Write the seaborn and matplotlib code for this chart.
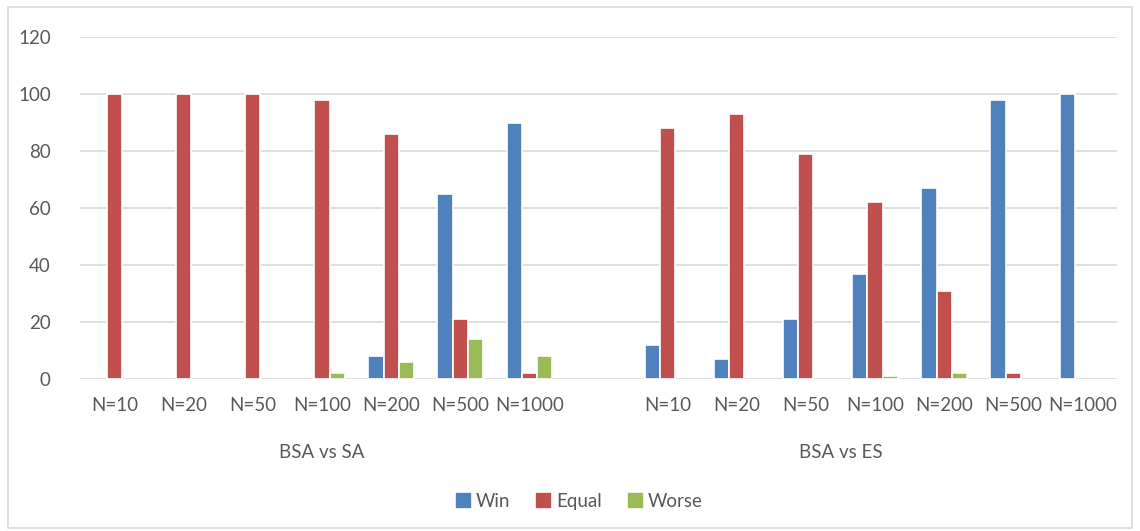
import matplotlib
matplotlib.use("Agg")
import matplotlib.pyplot as plt
import matplotlib.patches as mpatches
import seaborn as sns
import pandas as pd

# Sizes tested, per comparison
sizes = ["N=10", "N=20", "N=50", "N=100", "N=200", "N=500", "N=1000"]
comparisons = ["BSA vs SA", "BSA vs ES"]

# Percentage of runs: BSA vs SA
sa_win = [0, 0, 0, 0, 8, 65, 90]
sa_equal = [100, 100, 100, 98, 86, 21, 2]
sa_worse = [0, 0, 0, 2, 6, 14, 8]

# Percentage of runs: BSA vs ES
es_win = [12, 7, 21, 37, 67, 98, 100]
es_equal = [88, 93, 79, 62, 31, 2, 0]
es_worse = [0, 0, 0, 1, 2, 0, 0]

outcomes = ["Win", "Equal", "Worse"]
colors = ["#4F81BD", "#C0504D", "#9BBB59"]

rows = []
for comp, series in zip(comparisons, [(sa_win, sa_equal, sa_worse),
                                      (es_win, es_equal, es_worse)]):
    for outcome, vals in zip(outcomes, series):
        for s, v in zip(sizes, vals):
            rows.append({"slot": f"{comp}|{s}", "outcome": outcome, "value": v})
df = pd.DataFrame(rows)

# One empty slot separates the two comparisons
order = [f"{comparisons[0]}|{s}" for s in sizes] + ["gap"] + \
        [f"{comparisons[1]}|{s}" for s in sizes]

sns.set_theme(style="white")
plt.rcParams["font.family"] = ["Lato", "DejaVu Sans"]
text_color = "#595959"
fs = 13.5

fig = plt.figure(figsize=(11.4, 5.31), dpi=100)
ax = fig.add_axes([0.0702, 0.286, 0.9096, 0.644])

sns.barplot(data=df, x="slot", y="value", hue="outcome", order=order,
            hue_order=outcomes, palette=colors, width=0.66, ax=ax,
            edgecolor="white", linewidth=1.2, saturation=1, legend=False)

# Empty bars should not leave a white edge over the baseline
for bar in ax.patches:
    if bar.get_height() == 0:
        bar.set_linewidth(0)

ax.set_ylim(0, 120)
ax.set_xlim(-0.5, len(order) - 0.5)
ax.set_yticks(range(0, 121, 20))
ax.yaxis.grid(True, color="#D9D9D9", linewidth=1.2)
ax.set_axisbelow(True)
for sp in ax.spines.values():
    sp.set_visible(False)
ax.set_xlabel("")
ax.set_ylabel("")
ax.set_xticks(range(len(order)))
ax.set_xticklabels([o.split("|")[1] if "|" in o else "" for o in order])
ax.tick_params(axis="x", length=0, pad=13, labelsize=fs, colors=text_color)
ax.tick_params(axis="y", length=0, pad=21, labelsize=fs, colors=text_color)

# Comparison labels under each group (the gap slot belongs to the second group)
ax.text(3, -0.215, comparisons[0], transform=ax.get_xaxis_transform(),
        ha="center", va="center", fontsize=fs, color=text_color)
ax.text(10.5, -0.215, comparisons[1], transform=ax.get_xaxis_transform(),
        ha="center", va="center", fontsize=fs, color=text_color)

handles = [mpatches.Patch(color=c, label=l) for c, l in zip(colors, outcomes)]
fig.legend(handles=handles, loc="center", bbox_to_anchor=(0.508, 0.056), ncol=3,
           frameon=False, fontsize=fs, handlelength=0.75, handleheight=0.75,
           handletextpad=0.3, columnspacing=1.4, labelcolor=text_color)

# Outer chart border
fig.patches.append(mpatches.Rectangle((0.007, 0.006), 0.986, 0.98,
                                      transform=fig.transFigure, fill=False,
                                      edgecolor="#D9D9D9", linewidth=1.2))

fig.savefig("out.png", dpi=100)
